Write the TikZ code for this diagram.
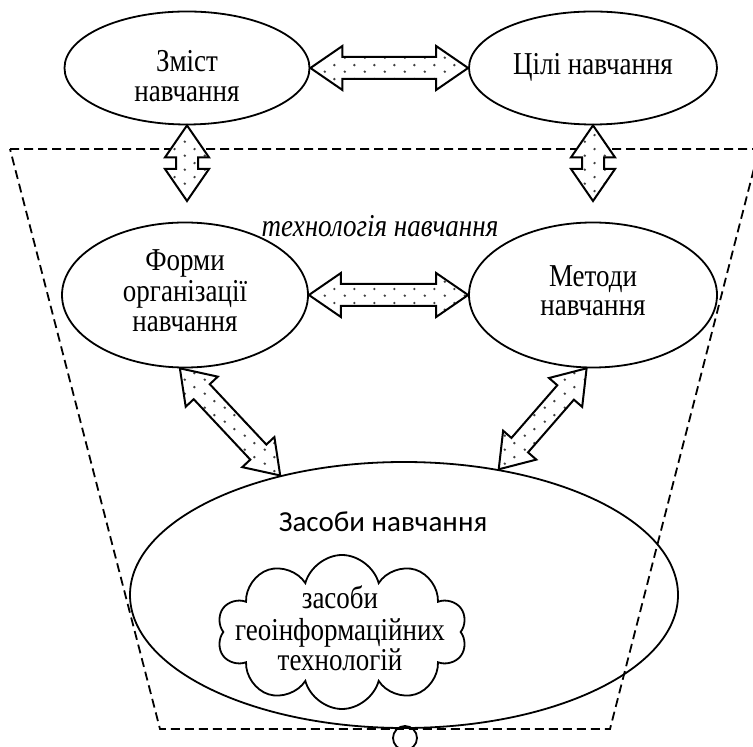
\documentclass[tikz,border=0pt]{standalone}
\usepackage{fontspec}
\setmainfont{Liberation Serif}
\newfontfamily\calibrifont{Carlito}
\usepackage{tikz}
\usetikzlibrary{calc,patterns,shapes.geometric,shapes.symbols}
\pgfdeclarepatternformonly{sparsedots}{\pgfqpoint{0pt}{0pt}}{\pgfqpoint{10pt}{7pt}}{\pgfqpoint{10pt}{7pt}}{%
	\pgfpathcircle{\pgfqpoint{2.5pt}{1.75pt}}{0.7pt}%
	\pgfpathcircle{\pgfqpoint{7.5pt}{5.25pt}}{0.7pt}%
	\pgfusepath{fill}}
\def\fatarrow[#1](#2)(#3){\draw[#1] (#2) -- ($(#2)!16pt!(#3)!11pt!90:(#3)$) -- ($(#2)!16pt!(#3)!5.5pt!90:(#3)$) -- ($(#3)!16pt!(#2)!5.5pt!-90:(#2)$) -- ($(#3)!16pt!(#2)!11pt!-90:(#2)$) -- (#3) -- ($(#3)!16pt!(#2)!11pt!90:(#2)$) -- ($(#3)!16pt!(#2)!5.5pt!90:(#2)$) -- ($(#2)!16pt!(#3)!5.5pt!-90:(#3)$) -- ($(#2)!16pt!(#3)!11pt!-90:(#3)$) -- cycle;}
\newcommand\tallt[1]{\scalebox{1}[1.18]{\begin{tabular}{@{}c@{}}#1\end{tabular}}}

\begin{document}
\begin{tikzpicture}[x=0.5pt, y=-0.5pt, line width=0.9pt,
	topic/.style={draw, ellipse, inner sep=0pt, font=\fontsize{13.5}{12.7}\selectfont},
	txt/.style={font=\fontsize{13.5}{12.7}\selectfont},
	fatarr/.style={line width=1pt, preaction={fill=white}, pattern=sparsedots, pattern color=black!75, line join=miter},
	frame/.style={dash pattern=on 4.5pt off 2.5pt, line width=0.9pt}]
		%%%%% START %%%%%
		\useasboundingbox (0,0) rectangle (753,747);
		
		\draw[frame] (10,149) -- (759,149) -- (610,729) -- (160,729) -- cycle;
		\node[font=\itshape\fontsize{13.5}{12.7}\selectfont] (tech) at (380,230) {\tallt{технологія навчання}};
		
		\node[topic, minimum width=122.5pt, minimum height=56.5pt] (zmist) at (187,68) {};
		\node[txt] (zmisttext) at (187,80) {\tallt{Зміст\\навчання}};
		\node[topic, minimum width=124pt, minimum height=56.5pt] (tsili) at (593,68) {\tallt{Цілі навчання}};
		
		\node[topic, minimum width=123pt, minimum height=72.5pt] (formy) at (185,295) {\tallt{Форми\\організації\\навчання}};
		\node[topic, minimum width=124pt, minimum height=72.5pt] (metody) at (593,295) {\tallt{Методи\\навчання}};
		
		\node[draw, ellipse, minimum width=274pt, minimum height=133pt] (zasoby) at (404,595) {};
		\node[font=\calibrifont\fontsize{14.5}{17}\selectfont] (zasobytext) at (383,522) {Засоби навчання};
		\node[draw, cloud, cloud puffs=10, cloud ignores aspect, inner sep=0pt, minimum width=125pt, minimum height=77pt] (geo) at (342,632) {};
		\node[txt] (geotext) at (340,633) {\tallt{засоби\\геоінформаційних\\технологій}};
		
		\coordinate (zmistend) at (187,201);
		\coordinate (tsiliend) at (593,201);
		
		\fatarrow[fatarr](zmist.east)(tsili.west);
		\fatarrow[fatarr](zmist.south)(zmistend);
		\fatarrow[fatarr](tsili.south)(tsiliend);
		\fatarrow[fatarr](formy.east)(metody.west);
		\fatarrow[fatarr](formy.266)(zasoby.136);
		\fatarrow[fatarr](metody.265)(zasoby.53);
		
		\draw (405,738) circle (6pt);
		%%%%% END %%%%%
\end{tikzpicture}
\end{document}
